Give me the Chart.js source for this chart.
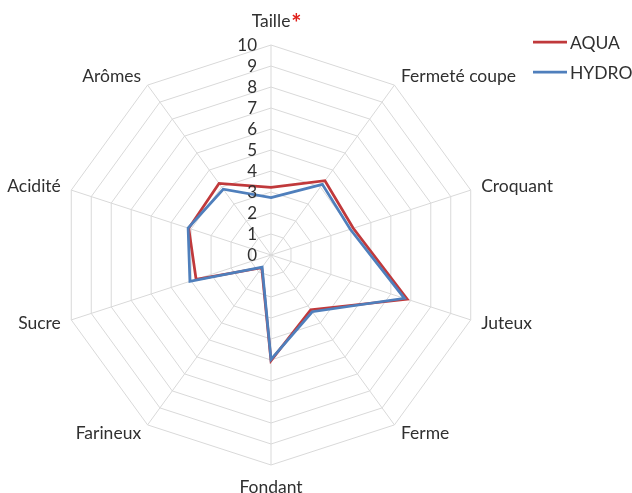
<!DOCTYPE html>
<html>
<head>
<meta charset="utf-8">
<script src="https://cdn.jsdelivr.net/npm/chart.js@4/dist/chart.umd.min.js"></script>
<style>
  html, body { margin: 0; padding: 0; background: #ffffff; overflow: hidden; }
  #wrap { width: 632px; height: 493px; position: relative; }
</style>
</head>
<body>
<div id="wrap"><canvas id="c" width="632" height="493"></canvas></div>
<script>
// ---- data ----
const categories = ['Taille', 'Fermeté coupe', 'Croquant', 'Juteux', 'Ferme', 'Fondant', 'Farineux', 'Sucre', 'Acidité', 'Arômes'];
const categoryMarks = ['*', '', '', '', '', '', '', '', '', ''];
const seriesNames = ['AQUA', 'HYDRO'];
const aquaValues  = [3.22, 4.37, 4.12, 6.82, 3.22, 5.03, 0.75, 3.75, 4.12, 4.21];
const hydroValues = [2.73, 4.16, 3.97, 6.68, 3.34, 4.97, 0.72, 4.06, 4.15, 3.87];
const tickValues  = [0, 1, 2, 3, 4, 5, 6, 7, 8, 9, 10];

const FONT = 'Lato, Carlito, Calibri, "Open Sans", sans-serif';
const TEXT_COLOR = '#303030';
const COLORS = ['#C0393B', '#4F7FBC'];

// draws category labels, tick labels, marker and legend using the scale geometry
const decorPlugin = {
  id: 'decor',
  afterDatasetsDraw(chart) {
    const ctx = chart.ctx;
    const scale = chart.scales.r;
    const cx = scale.xCenter, cy = scale.yCenter;
    ctx.save();
    // tick labels left of the vertical axis
    ctx.font = '17px ' + FONT;
    ctx.fillStyle = TEXT_COLOR;
    ctx.textAlign = 'right';
    ctx.textBaseline = 'middle';
    tickValues.forEach(v => {
      const d = scale.getDistanceFromCenterForValue(v);
      ctx.fillText(String(v), cx - 14, cy - d + 1);
    });
    // category labels
    const labels = chart.data.labels;
    labels.forEach((lab, i) => {
      const p = scale.getPointPosition(i, scale.drawingArea + 11);
      const a = scale.getIndexAngle(i);
      const s = Math.sin(a), c = Math.cos(a);
      let x = p.x, y = p.y, align;
      if (Math.abs(s) < 0.01) {
        align = 'center';
        y += (c > 0 ? -13 : 11);
      } else {
        align = s > 0 ? 'left' : 'right';
      }
      ctx.font = '17.5px ' + FONT;
      ctx.fillStyle = TEXT_COLOR;
      ctx.textAlign = align;
      ctx.fillText(lab, x, y);
      const mark = categoryMarks[i];
      if (mark) {
        const w = ctx.measureText(lab).width;
        let xr = align === 'center' ? x + w / 2 : (align === 'left' ? x + w : x);
        ctx.font = 'bold 24px ' + FONT;
        ctx.fillStyle = '#E0201B';
        ctx.textAlign = 'left';
        ctx.fillText(mark, xr + 1, y + 3);
      }
    });
    // legend
    chart.data.datasets.forEach((ds, i) => {
      const ly = 42 + 30 * i;
      ctx.strokeStyle = ds.borderColor;
      ctx.lineWidth = 2.75;
      ctx.beginPath();
      ctx.moveTo(533, ly);
      ctx.lineTo(567, ly);
      ctx.stroke();
      ctx.font = '17.5px ' + FONT;
      ctx.fillStyle = TEXT_COLOR;
      ctx.textAlign = 'left';
      ctx.textBaseline = 'middle';
      ctx.fillText(ds.label, 570, ly + 1);
    });
    ctx.restore();
  }
};

new Chart(document.getElementById('c'), {
  type: 'radar',
  data: {
    labels: categories,
    datasets: [
      { label: seriesNames[0], data: aquaValues, borderColor: COLORS[0], backgroundColor: 'transparent',
        borderWidth: 2.75, pointRadius: 0, pointHoverRadius: 0, fill: false, tension: 0, order: 1 },
      { label: seriesNames[1], data: hydroValues, borderColor: COLORS[1], backgroundColor: 'transparent',
        borderWidth: 2.75, pointRadius: 0, pointHoverRadius: 0, fill: false, tension: 0, order: 0 }
    ]
  },
  options: {
    responsive: false,
    devicePixelRatio: 1,
    animation: false,
    layout: { padding: { top: 45, bottom: 28, left: 61, right: 151 } },
    plugins: { legend: { display: false }, tooltip: { enabled: false } },
    scales: {
      r: {
        min: 0, max: 10,
        ticks: { stepSize: 1, display: false },
        grid: { color: '#D9D9D9', lineWidth: 1 },
        angleLines: { color: '#D9D9D9', lineWidth: 1 },
        pointLabels: { display: false }
      }
    }
  },
  plugins: [decorPlugin]
});
</script>
</body>
</html>
